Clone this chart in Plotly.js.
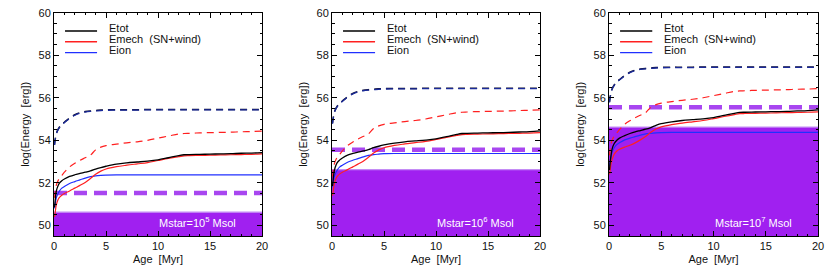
<!DOCTYPE html>
<html>
<head>
<meta charset="utf-8">
<script src="https://cdn.plot.ly/plotly-3.0.1.min.js"></script>
<style>html,body{margin:0;padding:0;background:#fff}#chart{width:830px;height:275px}</style>
</head>
<body>
<div id="chart"></div>
<script>
// Age grid [Myr]
const age = [0.05,0.1,0.2,0.3,0.5,0.75,1,1.5,2,2.5,3,3.5,4,4.5,5,6,7,8,9,10,11,12,12.5,13,14,15,16,17,18,19,20];

// Panel 1: Mstar = 1e5 Msol
const etot1   = [50.85,51.1,51.55,51.75,51.98,52.1,52.18,52.3,52.38,52.44,52.5,52.56,52.65,52.72,52.78,52.88,52.94,52.98,53.02,53.08,53.18,53.28,53.32,53.33,53.34,53.35,53.36,53.37,53.39,53.4,53.42];
const emech1  = [50.4,50.55,50.9,51.1,51.3,51.42,51.5,51.62,51.75,51.88,52.02,52.2,52.4,52.55,52.65,52.76,52.83,52.89,52.95,53.05,53.15,53.23,53.27,53.28,53.29,53.3,53.31,53.32,53.33,53.34,53.36];
const eion1   = [50.8,50.95,51.25,51.4,51.6,51.75,51.83,51.97,52.06,52.14,52.22,52.29,52.33,52.35,52.36,52.37,52.37,52.37,52.37,52.37,52.37,52.37,52.37,52.37,52.37,52.37,52.37,52.37,52.37,52.37,52.37];
const etotD1  = [53.8,54.0,54.25,54.42,54.6,54.75,54.85,55.05,55.2,55.3,55.35,55.38,55.4,55.42,55.43,55.44,55.44,55.44,55.45,55.45,55.45,55.45,55.45,55.45,55.45,55.45,55.45,55.45,55.45,55.45,55.45];
const eionD1  = [53.78,53.98,54.23,54.4,54.58,54.73,54.83,55.03,55.18,55.28,55.33,55.36,55.38,55.4,55.41,55.42,55.42,55.42,55.43,55.43,55.43,55.43,55.43,55.43,55.43,55.43,55.43,55.43,55.43,55.43,55.43];
const emechD1 = [51.3,51.5,51.85,52.0,52.2,52.35,52.5,52.75,52.92,53.06,53.18,53.3,53.55,53.68,53.75,53.82,53.88,53.93,54.0,54.1,54.2,54.3,54.32,54.33,54.35,54.36,54.37,54.38,54.4,54.41,54.43];

// Panel 2: Mstar = 1e6 Msol
const etot2   = [51.85,52.1,52.5,52.72,52.95,53.08,53.17,53.3,53.38,53.44,53.5,53.56,53.65,53.72,53.78,53.87,53.93,53.97,54.01,54.07,54.17,54.28,54.32,54.33,54.34,54.35,54.36,54.37,54.39,54.41,54.44];
const emech2  = [51.4,51.55,51.9,52.1,52.3,52.42,52.5,52.62,52.75,52.88,53.02,53.2,53.4,53.55,53.65,53.76,53.83,53.89,53.95,54.04,54.14,54.23,54.27,54.28,54.29,54.3,54.31,54.32,54.33,54.34,54.36];
const eion2   = [51.8,51.95,52.25,52.4,52.6,52.75,52.83,52.97,53.06,53.14,53.22,53.29,53.33,53.35,53.37,53.38,53.38,53.38,53.38,53.38,53.38,53.38,53.38,53.38,53.38,53.38,53.38,53.38,53.38,53.38,53.38];
const etotD2  = [54.8,55.0,55.25,55.42,55.6,55.75,55.85,56.05,56.2,56.3,56.35,56.38,56.4,56.42,56.43,56.44,56.44,56.44,56.45,56.45,56.45,56.45,56.45,56.45,56.45,56.45,56.45,56.45,56.45,56.45,56.45];
const eionD2  = [54.78,54.98,55.23,55.4,55.58,55.73,55.83,56.03,56.18,56.28,56.33,56.36,56.38,56.4,56.41,56.42,56.42,56.42,56.43,56.43,56.43,56.43,56.43,56.43,56.43,56.43,56.43,56.43,56.43,56.43,56.43];
const emechD2 = [52.3,52.5,52.85,53.0,53.2,53.35,53.5,53.75,53.92,54.06,54.18,54.3,54.55,54.68,54.75,54.82,54.88,54.93,55.0,55.1,55.2,55.3,55.32,55.33,55.35,55.36,55.37,55.38,55.4,55.41,55.43];

// Panel 3: Mstar = 1e7 Msol
const etot3   = [52.6,52.9,53.3,53.6,53.85,54.0,54.1,54.22,54.32,54.4,54.46,54.52,54.6,54.7,54.78,54.87,54.93,54.97,55.01,55.07,55.17,55.27,55.31,55.32,55.33,55.34,55.35,55.36,55.38,55.4,55.43];
const emech3  = [52.4,52.55,52.9,53.1,53.35,53.5,53.58,53.68,53.77,53.88,54.02,54.18,54.38,54.53,54.63,54.74,54.81,54.87,54.93,55.02,55.12,55.21,55.25,55.26,55.27,55.28,55.29,55.3,55.31,55.32,55.34];
const eion3   = [52.8,52.95,53.25,53.45,53.65,53.8,53.88,54.02,54.1,54.17,54.24,54.3,54.33,54.35,54.36,54.37,54.37,54.37,54.37,54.37,54.37,54.37,54.37,54.37,54.37,54.37,54.37,54.37,54.37,54.37,54.37];
const etotD3  = [55.8,56.0,56.25,56.42,56.6,56.75,56.85,57.05,57.2,57.3,57.35,57.38,57.4,57.42,57.43,57.44,57.44,57.44,57.45,57.45,57.45,57.45,57.45,57.45,57.45,57.45,57.45,57.45,57.45,57.45,57.45];
const eionD3  = [55.78,55.98,56.23,56.4,56.58,56.73,56.83,57.03,57.18,57.28,57.33,57.36,57.38,57.4,57.41,57.42,57.42,57.42,57.43,57.43,57.43,57.43,57.43,57.43,57.43,57.43,57.43,57.43,57.43,57.43,57.43];
const emechD3 = [53.3,53.5,53.85,54.0,54.2,54.35,54.5,54.75,54.92,55.06,55.18,55.3,55.55,55.68,55.75,55.82,55.88,55.93,56.0,56.1,56.2,56.3,56.32,56.33,56.35,56.36,56.37,56.38,56.4,56.41,56.43];

// Horizontal reference levels per panel
const shadeTop   = [50.62, 52.62, 54.62];
const purpleDash = [51.52, 53.55, 55.55];
const massExp    = ['5', '6', '7'];
const ageSpan    = [0, 20];

const legendNames = ['Etot', 'Emech  (SN+wind)', 'Eion'];
const legendColors = ['#000000', '#ff2020', '#2030ff'];

const panels = [
  {etot: etot1, emech: emech1, eion: eion1, etotD: etotD1, eionD: eionD1, emechD: emechD1},
  {etot: etot2, emech: emech2, eion: eion2, etotD: etotD2, eionD: eionD2, emechD: emechD2},
  {etot: etot3, emech: emech3, eion: eion3, etotD: etotD3, eionD: eionD3, emechD: emechD3}
];

const FONT = 'Liberation Sans, Arial, sans-serif';
const traces = [];
const shapes = [];
const annotations = [];
const layout = {
  width: 830, height: 275,
  margin: {l: 0, r: 0, t: 0, b: 0},
  paper_bgcolor: '#ffffff', plot_bgcolor: '#ffffff',
  showlegend: false,
  font: {family: FONT, size: 11, color: '#000'}
};

const xDomains = [[54/830, 262/830], [332/830, 540/830], [609/830, 818/830]];
const yDomain = [(275-236)/275, (275-12.7)/275];

panels.forEach((p, i) => {
  const n = i === 0 ? '' : String(i + 1);
  const xa = 'x' + n, ya = 'y' + n;
  // shaded band
  traces.push({x: ageSpan, y: [shadeTop[i], shadeTop[i]], xaxis: xa, yaxis: ya, mode: 'lines',
    line: {color: '#c48cf5', width: 1.2}, fill: 'tozeroy', fillcolor: '#a020f0', hoverinfo: 'skip'});
  // purple dashed level
  traces.push({x: ageSpan, y: [purpleDash[i], purpleDash[i]], xaxis: xa, yaxis: ya, mode: 'lines',
    line: {color: 'rgb(168,70,240)', width: 4.5, dash: '13px,7px'}});
  // dashed curves
  traces.push({x: age, y: p.emechD, xaxis: xa, yaxis: ya, mode: 'lines', line: {color: '#ff2020', width: 1.2, dash: '7px,5px', shape: 'spline'}});
  traces.push({x: age, y: p.etotD, xaxis: xa, yaxis: ya, mode: 'lines', line: {color: '#101030', width: 1.5, dash: '7px,5px', shape: 'spline'}});
  traces.push({x: age, y: p.eionD, xaxis: xa, yaxis: ya, mode: 'lines', line: {color: '#1a2a9a', width: 1.3, dash: '7px,5px', shape: 'spline'}});
  // solid curves
  traces.push({x: age, y: p.eion, xaxis: xa, yaxis: ya, mode: 'lines', line: {color: '#2030ff', width: 1.2, shape: 'spline'}});
  traces.push({x: age, y: p.emech, xaxis: xa, yaxis: ya, mode: 'lines', line: {color: '#ff2020', width: 1.2, shape: 'spline'}});
  traces.push({x: age, y: p.etot, xaxis: xa, yaxis: ya, mode: 'lines', line: {color: '#000000', width: 1.3, shape: 'spline'}});

  layout['xaxis' + n] = {
    domain: xDomains[i], anchor: ya, range: [0, 20],
    showline: true, linecolor: '#000', linewidth: 1, mirror: 'allticks',
    ticks: 'inside', ticklen: 5, tickcolor: '#000', tickwidth: 1,
    dtick: 5, tick0: 0, showgrid: false, zeroline: false,
    minor: {ticks: 'inside', ticklen: 2.5, dtick: 1, tickcolor: '#000', showgrid: false},
    tickfont: {family: FONT, size: 11, color: '#111'},
    title: {text: 'Age  [Myr]', font: {family: FONT, size: 11, color: '#111'}, standoff: 4}
  };
  layout['yaxis' + n] = {
    domain: yDomain, anchor: xa, range: [49.5, 60],
    showline: true, linecolor: '#000', linewidth: 1, mirror: 'allticks',
    ticks: 'inside', ticklen: 5, tickcolor: '#000', tickwidth: 1,
    dtick: 2, tick0: 50, showgrid: false, zeroline: false,
    minor: {ticks: 'inside', ticklen: 2.5, dtick: 0.5, tickcolor: '#000', showgrid: false},
    tickfont: {family: FONT, size: 11, color: '#111'},
    title: {text: 'log(Energy  [erg])', font: {family: FONT, size: 11, color: '#111'}, standoff: 6}
  };

  // legend drawn in panel
  const ly = [0.918, 0.870, 0.821];
  legendNames.forEach((name, k) => {
    shapes.push({type: 'line', xref: xa + ' domain', yref: ya + ' domain',
      x0: 0.053, x1: 0.207, y0: ly[k], y1: ly[k], line: {color: legendColors[k], width: 1.3}});
    annotations.push({xref: xa + ' domain', yref: ya + ' domain', x: 0.255, y: ly[k] + 0.012,
      xanchor: 'left', yanchor: 'middle', showarrow: false, text: name,
      font: {family: FONT, size: 11, color: '#111'}});
  });
  annotations.push({xref: xa + ' domain', yref: ya + ' domain', x: 0.69, y: 0.063,
    xanchor: 'center', yanchor: 'middle', showarrow: false,
    text: 'Mstar=10<sup>' + massExp[i] + '</sup> Msol', font: {family: FONT, size: 11, color: '#ffffff'}});
});

layout.shapes = shapes;
layout.annotations = annotations;

Plotly.newPlot('chart', traces, layout, {staticPlot: true, displayModeBar: false});
</script>
</body>
</html>
